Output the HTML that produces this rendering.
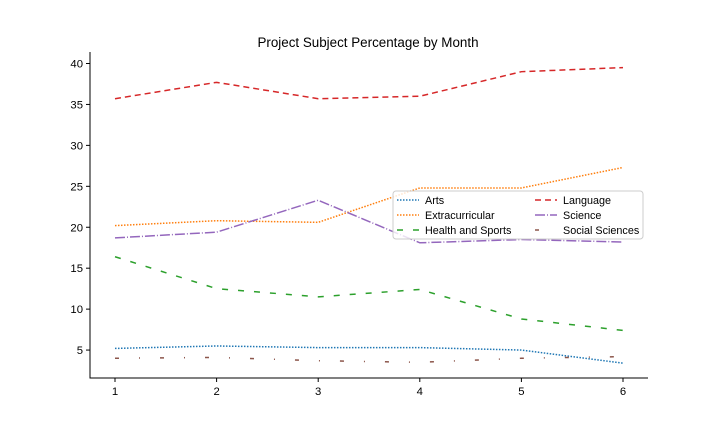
<!DOCTYPE html>
<html><head><meta charset="utf-8"><style>
body{margin:0;background:#fff;font-family:"Liberation Sans",sans-serif}
svg{display:block}
text{font-family:"Liberation Sans",sans-serif;fill:#000}
</style></head><body>
<svg id="c" width="720" height="432"></svg>
<script>
const months=[1,2,3,4,5,6];
const xTicks=[1,2,3,4,5,6];
const yTicks=[5,10,15,20,25,30,35,40];
const arts=[5.2,5.5,5.3,5.3,5.0,3.4];
const extracurricular=[20.2,20.8,20.6,24.8,24.8,27.3];
const health=[16.4,12.5,11.5,12.4,8.8,7.4];
const language=[35.7,37.7,35.7,36.0,39.0,39.5];
const science=[18.7,19.4,23.3,18.1,18.5,18.2];
const social=[4.0,4.1,3.7,3.5,4.0,4.2];
const seriesNames=["Arts","Extracurricular","Health and Sports","Language","Science","Social Sciences"];

const NS="http://www.w3.org/2000/svg";
const svg=document.getElementById('c');
const L=90,R=648,T=52,B=378;
const x=v=>115+(v-1)*(623-115)/5;
const y=v=>391-v*(391-63.5)/40;
function mk(tag,at,parent){const e=document.createElementNS(NS,tag);for(const k in at)e.setAttribute(k,at[k]);(parent||svg).appendChild(e);return e;}

const t=mk('text',{x:368,y:47,'text-anchor':'middle','font-size':13.4});t.textContent="Project Subject Percentage by Month";



const ax=mk('path',{d:`M${L} ${T}V${B}H${R}`,stroke:'#000','stroke-width':1,fill:'none'});



xTicks.forEach(v=>{
  const g=mk('g',{});
  
  
  mk('line',{x1:x(v),x2:x(v),y1:B,y2:B+4,stroke:'#000'},g);
  const tx=mk('text',{x:x(v),y:B+17,'text-anchor':'middle','font-size':11.3},g);tx.textContent=v;
});
yTicks.forEach(v=>{
  const g=mk('g',{});
  
  
  mk('line',{x1:L-4,x2:L,y1:y(v),y2:y(v),stroke:'#000'},g);
  const tx=mk('text',{x:L-7,y:y(v)+4,'text-anchor':'end','font-size':11.3},g);tx.textContent=v;
});

const styles=[
 {d:arts,c:'#1f77b4',dash:'1.5,1.5'},
 {d:extracurricular,c:'#ff7f0e',dash:'1.5,1.5'},
 {d:health,c:'#2ca02c',dash:'6,10'},
 {d:language,c:'#d62728',dash:'6,4'},
 {d:science,c:'#9467bd',dash:'10,2,1,2'},
 {d:social,c:'#8c564b',dash:'4,20,1,20'}
];
styles.forEach((s,i)=>{
  const p=mk('polyline',{points:months.map((m,j)=>x(m)+','+y(s.d[j])).join(' '),fill:'none',stroke:s.c,'stroke-width':1.5,'stroke-dasharray':s.dash});
  
  
});

const lg=mk('g',{});


mk('rect',{x:393,y:191,width:250,height:48,rx:3,fill:'#fff','fill-opacity':0.8,stroke:'#ccc'},lg);
styles.forEach((s,i)=>{
  const col=i<3?0:1,row=i%3;
  const lx=397+col*138,ly=200+row*15;
  const e=mk('g',{},lg);
  
  
  mk('line',{x1:lx,x2:lx+22,y1:ly,y2:ly,stroke:s.c,'stroke-width':1.5,'stroke-dasharray':s.dash},e);
  const tx=mk('text',{x:lx+28,y:ly+4,'font-size':10.8},e);tx.textContent=seriesNames[i];
});
</script>
</body></html>
